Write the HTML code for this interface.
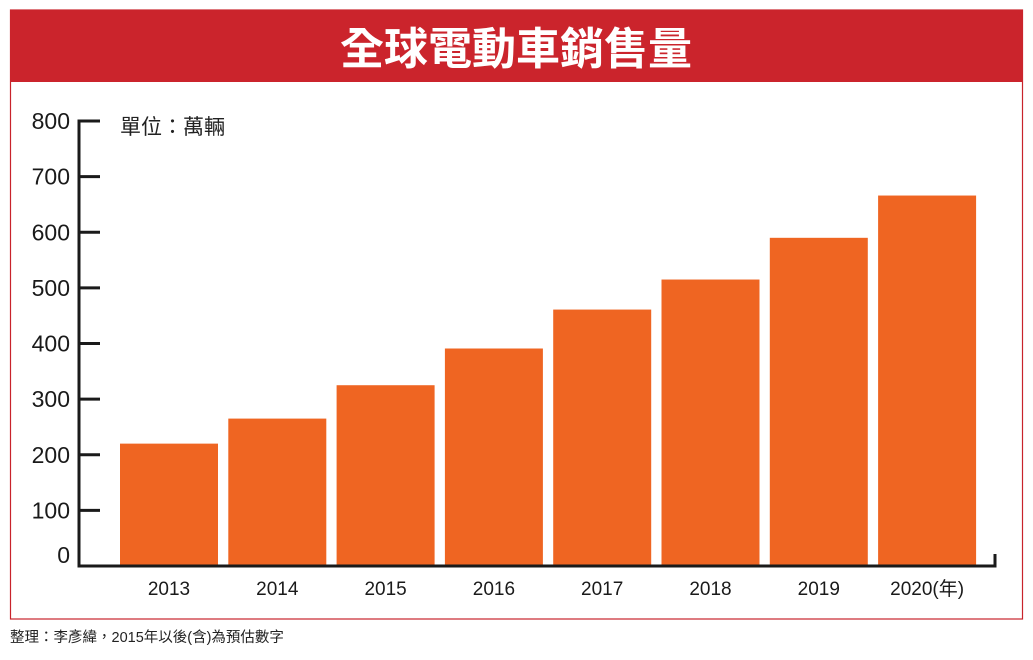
<!DOCTYPE html>
<html><head><meta charset="utf-8"><style>
body{margin:0;background:#fff;width:1033px;height:655px;overflow:hidden;font-family:"Liberation Sans","Noto Sans CJK TC",sans-serif}
</style></head><body>
<svg width="1033" height="655" xmlns="http://www.w3.org/2000/svg">
<rect x="10.5" y="10" width="1012" height="609" fill="#fff" stroke="#c8232b" stroke-width="1.2"/>
<rect x="10" y="10" width="1013" height="72" fill="#cb242c"/>
<text x="516" y="64" text-anchor="middle" font-size="44" font-weight="bold" fill="#fff" font-family="Noto Sans CJK TC, sans-serif">全球電動車銷售量</text>
<text x="120" y="134" font-size="21" fill="#222">單位：萬輛</text>
<g id="yticks"></g>
<g id="bars"></g>
<g id="xlabels"></g>
<path d="M100 121 H79 V566 H995 V554" fill="none" stroke="#1a1a1a" stroke-width="3"/>
<text x="10" y="642" font-size="14.5" fill="#222">整理：李彥緯，2015年以後(含)為預估數字</text>
</svg>
<script>
const categories=["2013","2014","2015","2016","2017","2018","2019","2020(年)"];
const values=[220,265,325,391,461,515,590,666];
const yTicks=[0,100,200,300,400,500,600,700,800];
const NS="http://www.w3.org/2000/svg";
const y=v=>566-v*(445/800);
const x=i=>120+i*108.3;
const bw=98;
const gy=document.getElementById('yticks'),gb=document.getElementById('bars'),gx=document.getElementById('xlabels');
yTicks.forEach(t=>{
 const tx=document.createElementNS(NS,'text');
 
 
 tx.setAttribute('x',70);tx.setAttribute('y',y(t)+(t===0?-3:8));tx.setAttribute('text-anchor','end');
 tx.setAttribute('font-size','23');tx.setAttribute('fill','#1a1a1a');tx.textContent=t;gy.appendChild(tx);
 if(t>0&&t<800){const l=document.createElementNS(NS,'line');
 
 
 l.setAttribute('x1',79);l.setAttribute('x2',100);l.setAttribute('y1',y(t));l.setAttribute('y2',y(t));
 l.setAttribute('stroke','#1a1a1a');l.setAttribute('stroke-width','3');gy.appendChild(l);}
});
values.forEach((v,i)=>{
 const r=document.createElementNS(NS,'rect');
 
 
 r.setAttribute('x',x(i));r.setAttribute('y',y(v));r.setAttribute('width',bw);r.setAttribute('height',566-y(v));
 r.setAttribute('fill','#ef6522');gb.appendChild(r);
 const tx=document.createElementNS(NS,'text');
 
 
 tx.setAttribute('x',x(i)+bw/2);tx.setAttribute('y',595);tx.setAttribute('text-anchor','middle');
 tx.setAttribute('font-size','19');tx.setAttribute('fill','#1a1a1a');tx.textContent=categories[i];gx.appendChild(tx);
});
</script>
</body></html>
